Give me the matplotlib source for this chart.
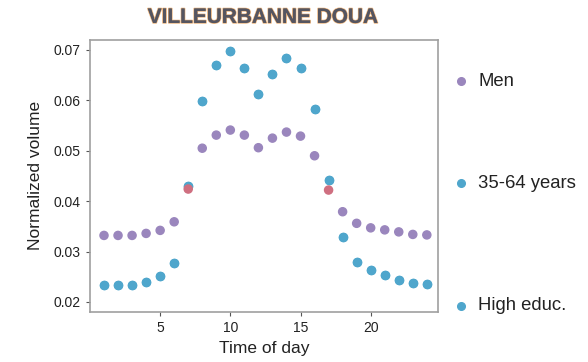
import matplotlib.pyplot as plt
import matplotlib.patheffects as pe
from matplotlib.lines import Line2D

plt.rcParams['font.family'] = ['Liberation Sans', 'DejaVu Sans']

hours = list(range(1, 25))
men = [0.0332, 0.0332, 0.0332, 0.0336, 0.0342, 0.0359, 0.0424, 0.0505,
       0.0531, 0.0541, 0.0531, 0.0506, 0.0525, 0.0537, 0.0529, 0.0490,
       0.0422, 0.0379, 0.0356, 0.0347, 0.0343, 0.0339, 0.0334, 0.0333]
age_35_64 = [0.0234, 0.0234, 0.0233, 0.0240, 0.0251, 0.0278, 0.0430, 0.0598,
             0.0670, 0.0697, 0.0664, 0.0613, 0.0653, 0.0683, 0.0665, 0.0583,
             0.0442, 0.0329, 0.0280, 0.0263, 0.0254, 0.0244, 0.0237, 0.0235]
high_educ = age_35_64
labels = ['Men', '35-64 years', 'High educ.']

purple = '#9a86bd'
blue = '#4fa6cc'
red = '#cf6f80'
men_colors = [red if h in (7, 17) else purple for h in hours]

fig = plt.figure(figsize=(5.88, 3.62), dpi=100)
ax = fig.add_axes([0.153, 0.138, 0.592, 0.752])

ax.scatter(hours, high_educ, s=34, color=blue, zorder=2)
ax.scatter(hours, age_35_64, s=34, color=blue, zorder=3)
ax.scatter(hours, men, s=34, c=men_colors, zorder=4)

ax.set_xlim(0.0, 24.8)
ax.set_ylim(0.018, 0.072)
ax.set_xticks([5, 10, 15, 20])
ax.set_yticks([0.02, 0.03, 0.04, 0.05, 0.06, 0.07])
ax.set_yticklabels(['0.02', '0.03', '0.04', '0.05', '0.06', '0.07'])
for s in ax.spines.values():
    s.set_color('#a0a0a0')
    s.set_linewidth(1.2)
ax.tick_params(labelsize=10, length=3, color='#555555', labelcolor='#222222')
ax.set_xlabel('Time of day', fontsize=12.5, color='#222222', labelpad=4)
ax.set_ylabel('Normalized volume', fontsize=12.5, color='#222222', labelpad=8)

t = fig.text(0.447, 0.952, 'VILLEURBANNE DOUA', ha='center', va='center',
             fontsize=15, fontweight='bold', color='#555560')
t.set_path_effects([pe.withStroke(linewidth=1.2, foreground='#eab27a'), pe.Normal()])

leg_y = [1 - 81 / 362, 1 - 183 / 362, 1 - 306 / 362]
leg_c = [purple, blue, blue]
for lab, y, c in zip(labels, leg_y, leg_c):
    fig.add_artist(Line2D([461 / 588], [y], marker='o', markersize=5.5,
                          color=c, linestyle='none', transform=fig.transFigure))
    fig.text(478 / 588, y, lab, fontsize=13.3, va='center', color='#222222')

fig.savefig('out.png', dpi=100)
